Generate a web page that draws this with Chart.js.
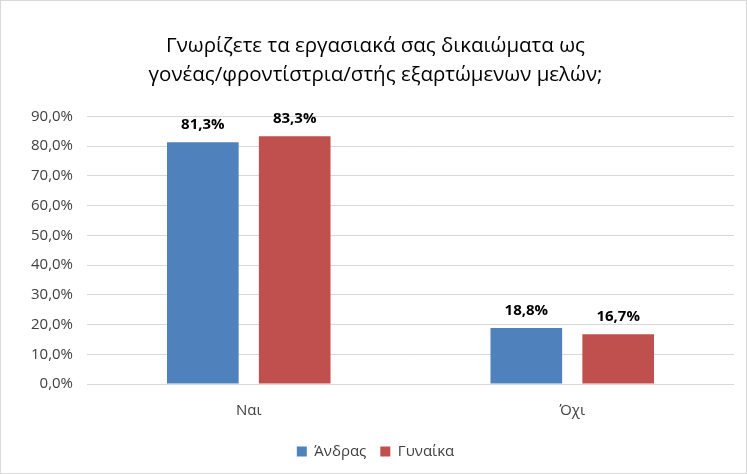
<!DOCTYPE html>
<html>
<head>
<meta charset="utf-8">
<script src="https://cdn.jsdelivr.net/npm/chart.js@4/dist/chart.umd.min.js"></script>
<style>
  html, body { margin: 0; padding: 0; background: #fff; }
  #wrap { position: relative; width: 747px; height: 474px; box-sizing: border-box; border: 1px solid #d9d9d9; }
  canvas { display: block; }
</style>
</head>
<body>
<div id="wrap"><canvas id="chart" width="745" height="472"></canvas></div>
<script>
  // --- data ---
  var categories = ['Ναι', 'Όχι'];
  var seriesNames = ['Άνδρας', 'Γυναίκα'];
  var menValues = [81.3, 18.8];
  var womenValues = [83.3, 16.7];
  var yTicks = [0, 10, 20, 30, 40, 50, 60, 70, 80, 90];
  var titleLines = ['Γνωρίζετε τα εργασιακά σας δικαιώματα ως', 'γονέας/φροντίστρια/στής εξαρτώμενων μελών;'];

  var FONT = "'Open Sans', 'Noto Sans', sans-serif";

  function pct(v) {
    return v.toFixed(1).replace('.', ',') + '%';
  }

  // draws the bold value above each bar
  var valueLabels = {
    id: 'valueLabels',
    afterDatasetsDraw: function(chart) {
      var ctx = chart.ctx;
      ctx.save();
      ctx.font = 'bold 15px ' + FONT;
      ctx.fillStyle = '#000';
      ctx.textAlign = 'center';
      ctx.textBaseline = 'bottom';
      chart.data.datasets.forEach(function(ds, i) {
        chart.getDatasetMeta(i).data.forEach(function(bar, j) {
          ctx.fillText(pct(ds.data[j]), bar.x, bar.y - 10);
        });
      });
      ctx.restore();
    }
  };

  new Chart(document.getElementById('chart'), {
    type: 'bar',
    data: {
      labels: categories,
      datasets: [
        { label: seriesNames[0], data: menValues, backgroundColor: '#4F81BD' },
        { label: seriesNames[1], data: womenValues, backgroundColor: '#C0504D' }
      ]
    },
    options: {
      responsive: false,
      animation: false,
      devicePixelRatio: 1,
      categoryPercentage: 0.568,
      barPercentage: 0.78,
      layout: { padding: { top: 31, left: 16, right: 12, bottom: 4 } },
      plugins: {
        title: {
          display: true,
          text: titleLines,
          color: '#000',
          font: { family: FONT, size: 20.5, weight: 'normal', lineHeight: 1.4 },
          padding: { top: 0, bottom: 27 }
        },
        legend: {
          position: 'bottom',
          labels: {
            color: '#404040',
            font: { family: FONT, size: 15 },
            boxWidth: 10,
            boxHeight: 10,
            padding: 14
          }
        },
        tooltip: { enabled: false }
      },
      scales: {
        x: {
          grid: { display: false },
          border: { display: false },
          ticks: { color: '#404040', font: { family: FONT, size: 15 }, padding: 10 }
        },
        y: {
          min: 0,
          max: 90,
          afterBuildTicks: function(axis) {
            axis.ticks = yTicks.map(function(v) { return { value: v }; });
          },
          grid: { color: '#d9d9d9', lineWidth: 1, drawTicks: false },
          border: { display: false },
          ticks: {
            color: '#404040',
            font: { family: FONT, size: 15 },
            padding: 14,
            callback: function(v) { return pct(v); }
          }
        }
      }
    },
    plugins: [valueLabels]
  });
</script>
</body>
</html>
